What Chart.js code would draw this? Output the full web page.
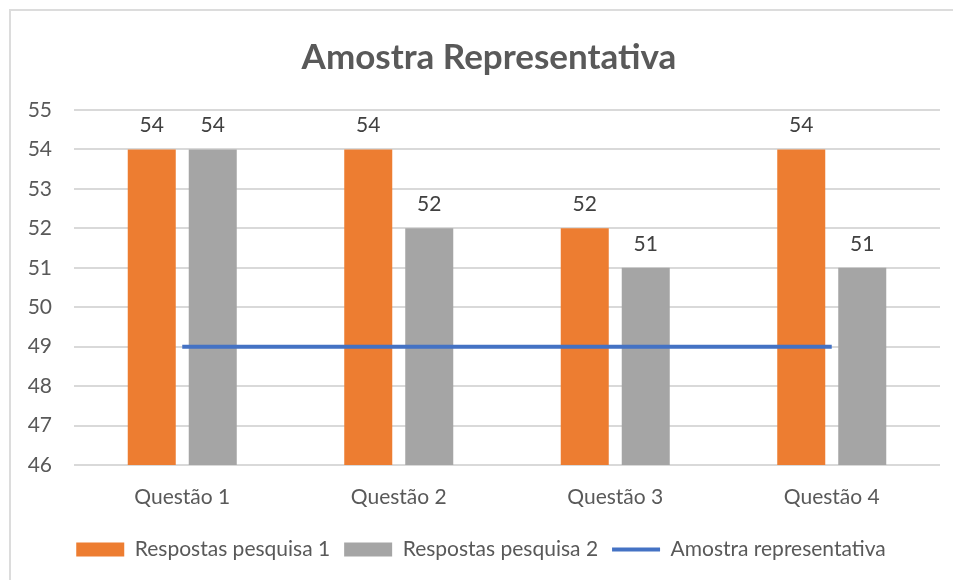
<!DOCTYPE html>
<html>
<head>
<meta charset="utf-8">
<script src="https://cdn.jsdelivr.net/npm/chart.js@4/dist/chart.umd.min.js"></script>
<style>
  html, body { margin: 0; padding: 0; background: #fff; overflow: hidden; }
  #wrap { position: absolute; left: 0; top: 0; width: 953px; height: 580px; }
  #frame { position: absolute; left: 9px; top: 9px; width: 2000px; height: 2000px; border: 2px solid #DCDCDC; pointer-events: none; }
</style>
</head>
<body>
<div id="frame"></div>
<div id="wrap"><canvas id="chart" width="953" height="580"></canvas></div>
<script>
// dados do gráfico
const categorias = ['Questão 1', 'Questão 2', 'Questão 3', 'Questão 4'];
const pesquisa1 = [54, 54, 52, 54];
const pesquisa2 = [54, 52, 51, 51];
const amostra = [49, 49, 49, 49];
const yTicks = [46, 47, 48, 49, 50, 51, 52, 53, 54, 55];

const FONT = 'Lato, "Open Sans", sans-serif';
const TEXT = '#595959';

// rótulos de valor acima das barras
const barLabels = {
  id: 'barLabels',
  afterDatasetsDraw(chart) {
    const ctx = chart.ctx;
    ctx.save();
    ctx.font = '21px ' + FONT;
    ctx.fillStyle = '#404040';
    ctx.textAlign = 'center';
    ctx.textBaseline = 'middle';
    chart.data.datasets.forEach((ds, i) => {
      if (ds.type !== 'bar') return;
      const meta = chart.getDatasetMeta(i);
      meta.data.forEach((bar, j) => {
        ctx.fillText(String(ds.data[j]), bar.x, bar.y - 24);
      });
    });
    ctx.restore();
  }
};

// título um pouco deslocado para a direita, como no original
const titleShift = {
  id: 'titleShift',
  afterLayout(chart) {
    if (chart.titleBlock) chart.titleBlock.left += 16;
  }
};

new Chart(document.getElementById('chart').getContext('2d'), {
  data: {
    labels: categorias,
    datasets: [
      { type: 'bar', label: 'Respostas pesquisa 1', data: pesquisa1, backgroundColor: '#ED7D31', order: 1,
        categoryPercentage: 0.5635, barPercentage: 0.787 },
      { type: 'bar', label: 'Respostas pesquisa 2', data: pesquisa2, backgroundColor: '#A5A5A5', order: 1,
        categoryPercentage: 0.5635, barPercentage: 0.787 },
      { type: 'line', label: 'Amostra representativa', data: amostra, borderColor: '#4472C4', backgroundColor: '#4472C4',
        borderWidth: 4, pointRadius: 0, order: 0 }
    ]
  },
  options: {
    responsive: false,
    animation: false,
    layout: { padding: { top: 29, left: 22, right: 13, bottom: 10 } },
    scales: {
      x: {
        grid: { display: false },
        border: { display: false },
        ticks: { color: TEXT, font: { family: FONT, size: 21 }, padding: 12 },
        afterFit: s => { s.height = 60; }
      },
      y: {
        min: 46, max: 55,
        afterBuildTicks: s => { s.ticks = yTicks.map(v => ({ value: v })); },
        grid: { color: '#D9D9D9', lineWidth: 2, drawTicks: false },
        border: { display: false },
        ticks: { color: TEXT, font: { family: FONT, size: 21 }, padding: 22 },
        afterFit: s => { s.width = 52; }
      }
    },
    plugins: {
      title: {
        display: true, text: 'Amostra Representativa', color: TEXT,
        font: { family: FONT, size: 35, weight: 'bold' },
        padding: { top: 8, bottom: 31 }
      },
      legend: {
        position: 'bottom',
        labels: {
          color: TEXT, font: { family: FONT, size: 21 },
          usePointStyle: true, pointStyleWidth: 48, boxHeight: 14, padding: 14,
          sort: (a, b) => a.datasetIndex - b.datasetIndex,
          generateLabels: chart => {
            const items = Chart.defaults.plugins.legend.labels.generateLabels(chart);
            items.forEach(it => {
              const ds = chart.data.datasets[it.datasetIndex];
              if (ds.type === 'line') {
                it.pointStyle = 'line'; it.lineWidth = 4; it.strokeStyle = ds.borderColor;
              } else {
                it.pointStyle = 'rect'; it.lineWidth = 0; it.fillStyle = ds.backgroundColor;
              }
            });
            return items;
          }
        }
      },
      tooltip: { enabled: false }
    }
  },
  plugins: [barLabels, titleShift]
});
</script>
</body>
</html>
